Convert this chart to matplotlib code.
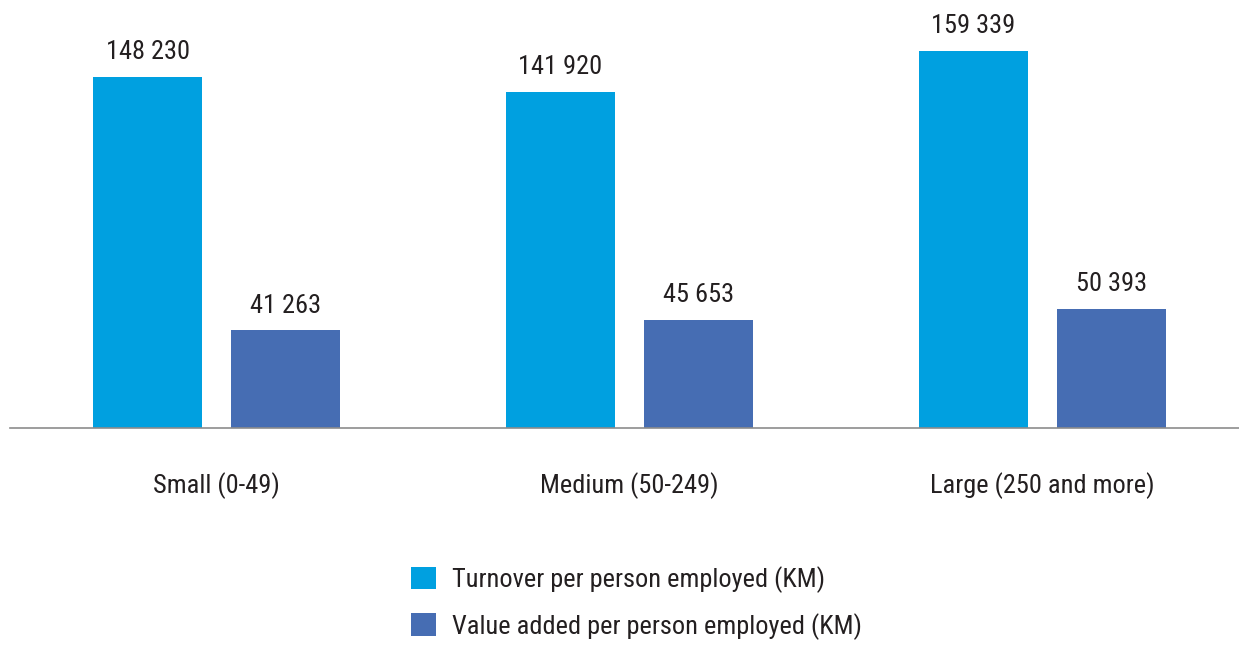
import numpy as np
import matplotlib.pyplot as plt

plt.rcParams['font.family'] = ['Roboto Condensed', 'Liberation Sans Narrow', 'Open Sans Condensed',
                               'Lato', 'DejaVu Sans']

categories = ['Small (0-49)', 'Medium (50-249)', 'Large (250 and more)']
turnover = [148230, 141920, 159339]
value_added = [41263, 45653, 50393]
series_names = ['Turnover per person employed (KM)', 'Value added per person employed (KM)']
colors = ['#00A0E0', '#466DB3']
text_color = '#231F20'

def fmt(v):
    return '{:,}'.format(v).replace(',', ' ')

fig = plt.figure(figsize=(12.39, 6.47), dpi=100)
ax = fig.add_axes([10 / 1239, 219 / 647, 1229 / 1239, 428 / 647])

x = np.arange(len(categories))
w = 0.266
off = 0.167
b1 = ax.bar(x - off, turnover, w, color=colors[0], label=series_names[0])
b2 = ax.bar(x + off, value_added, w, color=colors[1], label=series_names[1])

for bars, vals in [(b1, turnover), (b2, value_added)]:
    for rect, v in zip(bars, vals):
        ax.annotate(fmt(v), (rect.get_x() + rect.get_width() / 2, v),
                    xytext=(0, 9), textcoords='offset points',
                    ha='center', va='bottom', fontsize=19, color=text_color)

ax.set_xlim(-0.5, -0.5 + 1229 / 413)
ax.set_ylim(0, 180700)
ax.set_xticks(x)
ax.set_xticklabels(categories, fontsize=19, color=text_color)
ax.tick_params(axis='x', length=0, pad=32)
ax.set_yticks([])
for s in ['top', 'right', 'left']:
    ax.spines[s].set_visible(False)
ax.spines['bottom'].set_color('#8C8C8C')
ax.spines['bottom'].set_linewidth(1.2)

fig.legend(handles=[b1, b2], loc='upper left', bbox_to_anchor=(398 / 1239, 1 - 553 / 647),
           frameon=False, fontsize=19, handlelength=0.95, handleheight=0.95,
           handletextpad=0.6, labelspacing=0.75, borderpad=0, labelcolor=text_color)

fig.savefig('out.png', dpi=100)
